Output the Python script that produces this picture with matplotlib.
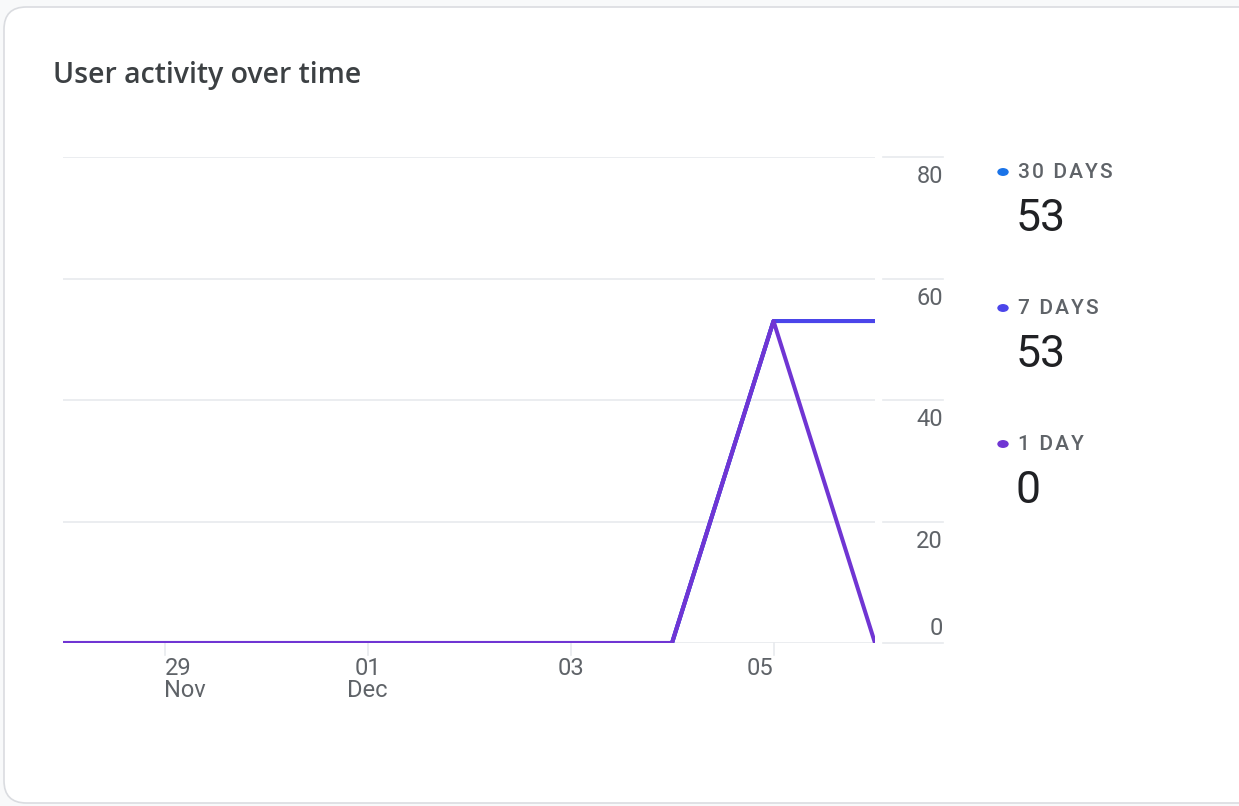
import numpy as np
import matplotlib

matplotlib.use("Agg")
import matplotlib.pyplot as plt
import matplotlib.dates as mdates
from matplotlib.patches import FancyBboxPatch

# data
dates = np.arange("2021-11-28", "2021-12-07", dtype="datetime64[D]")
thirty_days = [0, 0, 0, 0, 0, 0, 0, 53, 53]
seven_days = [0, 0, 0, 0, 0, 0, 0, 53, 53]
one_day = [0, 0, 0, 0, 0, 0, 0, 53, 0]

legend_labels = ["30 DAYS", "7 DAYS", "1 DAY"]
legend_values = ["53", "53", "0"]
series_colors = ["#1a73e8", "#4b45ea", "#7035d3"]

tick_dates = np.array(["2021-11-29", "2021-12-01", "2021-12-03", "2021-12-05"], dtype="datetime64[D]")
tick_labels = ["29\nNov", "01\nDec", "03", "05"]
y_ticks = [0, 20, 40, 60, 80]

W, H = 1239, 806
fig = plt.figure(figsize=(W / 100, H / 100), dpi=100)
fig.patch.set_facecolor("#f8f9fa")

# card
card = FancyBboxPatch((4 / W, 3 / H), 1.2, (H - 10) / H,
                      boxstyle="round,pad=0,rounding_size=0.018",
                      transform=fig.transFigure, facecolor="white",
                      edgecolor="#dadce0", linewidth=1.2, mutation_aspect=W / H,
                      zorder=-5)
fig.patches.append(card)

fig.text(53 / W, 1 - 76 / H, "User activity over time", fontsize=20.5,
         family="Open Sans", weight="semibold", color="#3c4043", va="center", ha="left")

ax = fig.add_axes([63 / W, 1 - 643 / H, (875 - 63) / W, (643 - 157) / H])
ax.set_facecolor("none")
ax.set_zorder(2)

x = dates.astype("datetime64[ns]")
ax.plot(x, thirty_days, color=series_colors[0], linewidth=2.9, solid_capstyle="butt", zorder=3)
ax.plot(x, seven_days, color=series_colors[1], linewidth=2.9, solid_capstyle="butt", zorder=4)
ax.plot(x, one_day, color=series_colors[2], linewidth=2.9, solid_capstyle="butt", zorder=5)

ax.set_xlim(x[0], x[-1])
ax.set_ylim(0, 80)
for s in ax.spines.values():
    s.set_visible(False)
ax.set_yticks([])
ax.set_xticks([])

# gridlines (chart part + short part next to the labels)
ext = (943 - 875) / (875 - 63)
gap = (883 - 875) / (875 - 63)
for yv in y_ticks:
    ax.axhline(yv, xmin=0, xmax=1, color="#e8eaed", linewidth=1.2, zorder=1)
    ax.axhline(yv, xmin=1 + gap, xmax=1 + ext, color="#e8eaed", linewidth=1.2,
               zorder=1, clip_on=False)
    if yv == 0:
        ax.annotate("0", (1 + ext, yv), xycoords=("axes fraction", "data"),
                    xytext=(0, 2), textcoords="offset points", ha="right", va="bottom",
                    fontsize=17, family="Roboto", color="#5f6368")
    else:
        ax.annotate(str(yv), (1 + ext, yv), xycoords=("axes fraction", "data"),
                    xytext=(0, -6), textcoords="offset points", ha="right", va="top",
                    fontsize=17, family="Roboto", color="#5f6368")

# x ticks
for i, (td, lab) in enumerate(zip(tick_dates, tick_labels)):
    tx = mdates.date2num(td.astype("datetime64[ns]"))
    ax.plot([tx, tx], [0, -2.0], color="#e8eaed", linewidth=1.2, clip_on=False, zorder=1)
    ha = "left" if i == 0 else ("right" if i == len(tick_labels) - 1 else "center")
    ax.text(tx, -2.3, lab, ha=ha, va="top", fontsize=17, family="Roboto",
            color="#5f6368", linespacing=0.95, clip_on=False)

# legend on the right
for i, (lab, val, col) in enumerate(zip(legend_labels, legend_values, series_colors)):
    y0 = 172 + i * 136
    fig.patches.append(plt.Circle((1003 / W, 1 - y0 / H), 5 / W, transform=fig.transFigure,
                                  color=col))
    spaced = "\u200a".join(lab)
    fig.text(1018 / W, 1 - y0 / H, spaced, fontsize=15, family=["Roboto", "DejaVu Sans"],
             weight="medium", color="#5f6368", va="center", ha="left")
    fig.text(1016 / W, 1 - (y0 + 47) / H, val, fontsize=32, family="Roboto",
             color="#202124", va="center", ha="left")

fig.savefig("out.png", dpi=100, facecolor=fig.get_facecolor())
